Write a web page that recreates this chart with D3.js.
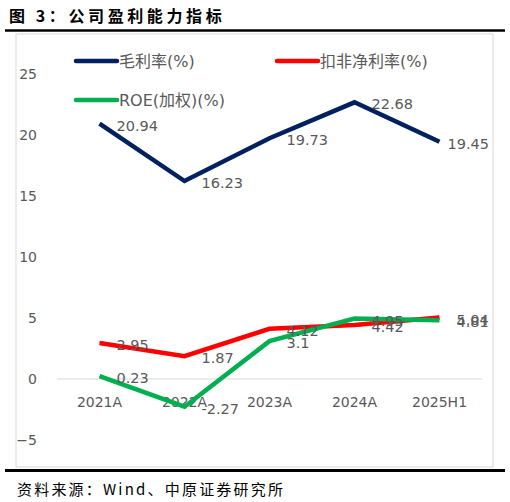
<!DOCTYPE html>
<html>
<head>
<meta charset="utf-8">
<script src="https://d3js.org/d3.v7.min.js"></script>
<style>
  body { margin: 0; background: #fff; }
  svg { display: block; }
</style>
</head>
<body>
<svg id="chart" width="510" height="502"></svg>
<script>
// data
const categories = ["2021A", "2022A", "2023A", "2024A", "2025H1"]
const grossMargin = [20.94, 16.23, 19.73, 22.68, 19.45]
const netMargin = [2.95, 1.87, 4.12, 4.42, 5.04]
const roe = [0.23, -2.27, 3.1, 4.95, 4.81]
const yTicks = [-5, 0, 5, 10, 15, 20, 25]

const seriesNames = ["毛利率(%)", "扣非净利率(%)", "ROE(加权)(%)"]
const seriesColors = ["#002060", "#ff0000", "#00b050"]

const labelFont = "'DejaVu Sans', 'Noto Sans CJK SC', sans-serif"
const textGray = "#595959"

const svg = d3.select("#chart")

// title + rules
svg.append("text")
  .attr("x", 9)
  .attr("y", 22)
  .attr("font-family", "'Noto Sans CJK SC', sans-serif")
  .attr("font-weight", "bold")
  .attr("font-size", 16)
  .attr("letter-spacing", 3.6)
  .attr("fill", "#000")
  .text("图 3：公司盈利能力指标")

svg.append("line")
  .attr("x1", 5).attr("x2", 505)
  .attr("y1", 30.5).attr("y2", 30.5)
  .attr("stroke", "#000").attr("stroke-width", 2.5)

// chart frame
svg.append("rect")
  .attr("x", 16).attr("y", 34)
  .attr("width", 477).attr("height", 433)
  .attr("fill", "#fff")
  .attr("stroke", "#d9d9d9").attr("stroke-width", 1)

svg.append("line")
  .attr("x1", 5).attr("x2", 505)
  .attr("y1", 470.5).attr("y2", 470.5)
  .attr("stroke", "#000").attr("stroke-width", 3)

svg.append("text")
  .attr("x", 17)
  .attr("y", 495)
  .attr("font-family", "'Noto Sans CJK SC', sans-serif")
  .attr("font-size", 15)
  .attr("letter-spacing", 2.2)
  .attr("fill", "#000")
  .text("资料来源：Wind、中原证券研究所")

// scales
const x = d3.scaleBand()
  .domain(categories)
  .range([57, 482])

const y = d3.scaleLinear()
  .domain([-5, 25])
  .range([440, 74])

const cx = d => x(d) + x.bandwidth() / 2

// zero line
svg.append("line")
  .attr("x1", 57).attr("x2", 482)
  .attr("y1", y(0)).attr("y2", y(0))
  .attr("stroke", "#d9d9d9").attr("stroke-width", 1)

// y axis labels
const yAxis = svg.append("g")
  .attr("transform", "translate(37,0)")
  .call(d3.axisLeft(y).tickValues(yTicks).tickSize(0).tickPadding(0))
yAxis.select(".domain").remove()
yAxis.selectAll("text")
  .attr("font-family", labelFont)
  .attr("font-size", 14)
  .attr("fill", textGray)

// x axis labels sit just under the zero line
const xAxis = svg.append("g")
  .attr("transform", "translate(0," + y(0) + ")")
  .call(d3.axisBottom(x).tickSize(0).tickPadding(18))
xAxis.select(".domain").remove()
xAxis.selectAll("text")
  .attr("font-family", labelFont)
  .attr("font-size", 14)
  .attr("fill", textGray)

// lines
const allSeries = [grossMargin, netMargin, roe]
const line = d3.line()
  .x((d, i) => cx(categories[i]))
  .y(d => y(d))

svg.selectAll(".series")
  .data(allSeries)
  .join("path")
    .attr("class", "series")
    .attr("fill", "none")
    .attr("stroke", (d, i) => seriesColors[i])
    .attr("stroke-width", 4.5)
    .attr("stroke-linejoin", "miter")
    .attr("d", d => line(d))

// data labels, right of the point, kept inside the chart area
const labelLimit = 489
allSeries.forEach(function(vals) {
  svg.append("g").selectAll("text")
    .data(vals)
    .join("text")
      .attr("font-family", labelFont)
      .attr("font-size", 14.5)
      .attr("fill", textGray)
      .attr("dy", "0.35em")
      .attr("y", d => y(d) + 2)
      .text(d => d)
      .attr("x", function(d, i) {
        const w = this.getComputedTextLength()
        return Math.min(cx(categories[i]) + 17, labelLimit - w)
      })
})

// legend
const legendPos = [[76, 61], [277, 61], [76, 100]]
const legend = svg.selectAll(".legend")
  .data(seriesNames)
  .join("g")
    .attr("class", "legend")
    .attr("transform", (d, i) => "translate(" + legendPos[i][0] + "," + legendPos[i][1] + ")")

legend.append("line")
  .attr("x1", 0).attr("x2", 41)
  .attr("stroke", (d, i) => seriesColors[i])
  .attr("stroke-width", 4.5)
  .attr("stroke-linecap", "round")

legend.append("text")
  .attr("x", 43)
  .attr("dy", "0.35em")
  .attr("font-family", labelFont)
  .attr("font-size", 16)
  .attr("fill", textGray)
  .text(d => d)
</script>
</body>
</html>
